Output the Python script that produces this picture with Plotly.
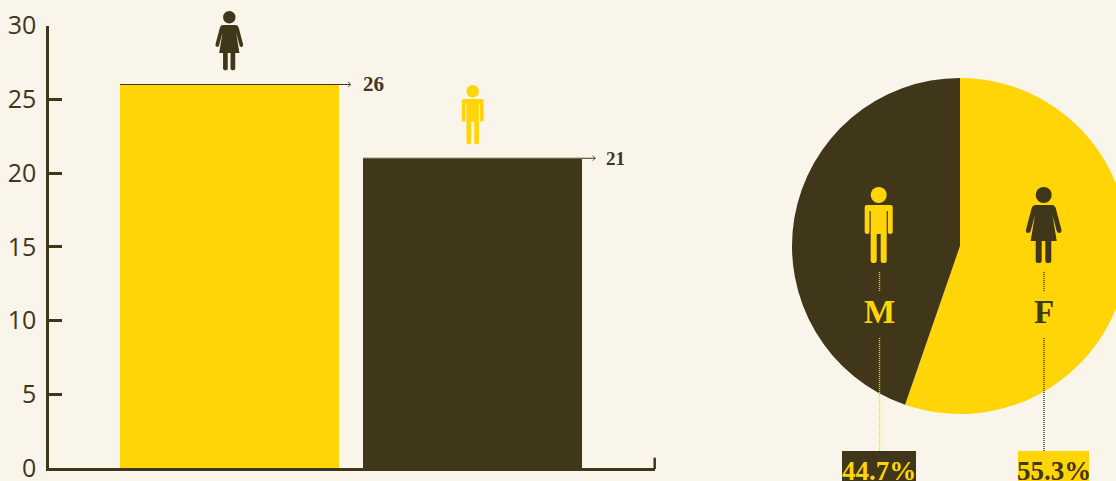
import plotly.graph_objects as go

# ---- data ----
categories = ["F", "M"]
counts = [26, 21]
count_labels = ["26", "21"]
share_values = [55.3, 44.7]
share_labels = ["55.3%", "44.7%"]
y_ticks = [0, 5, 10, 15, 20, 25, 30]

YELLOW = "#FFD508"
DARK = "#40361A"
BG = "#F9F5EA"

W, H = 1140, 481


def px(x):
    return x / W


def py(y):
    return (H - y) / H


def P(x, y):
    return f"{px(x):.5f},{py(y):.5f}"


def rounded_bar(x0, x1, y0, y1, r):
    """vertical limb, flat at the top and rounded at the bottom"""
    return (f"M{P(x0,y0)} L{P(x0,y1-r)} Q{P(x0,y1)} {P(x0+r,y1)} L{P(x1-r,y1)} "
            f"Q{P(x1,y1)} {P(x1,y1-r)} L{P(x1,y0)} Z")


def man(cx, top, s, color):
    X = lambda d: cx + d * s
    Y = lambda d: top + d * s
    r = 2.2 * s
    body = (f"M{P(X(-14),Y(20))} Q{P(X(-14),Y(18))} {P(X(-12),Y(18))} L{P(X(12),Y(18))} "
            f"Q{P(X(14),Y(18))} {P(X(14),Y(20))} L{P(X(14),Y(45))} Q{P(X(14),Y(47))} {P(X(11.5),Y(47))} "
            f"Q{P(X(9.2),Y(47))} {P(X(9.2),Y(45))} L{P(X(9.2),Y(24))} L{P(X(8),Y(24))} L{P(X(8),Y(47))} "
            f"L{P(X(-8),Y(47))} L{P(X(-8),Y(24))} L{P(X(-9.2),Y(24))} L{P(X(-9.2),Y(45))} "
            f"Q{P(X(-9.2),Y(47))} {P(X(-11.5),Y(47))} Q{P(X(-14),Y(47))} {P(X(-14),Y(45))} Z")
    out = [dict(type="circle", xref="paper", yref="paper", x0=px(X(-8)), x1=px(X(8)),
                y0=py(Y(16)), y1=py(Y(0)), fillcolor=color, line_width=0),
           dict(type="path", xref="paper", yref="paper", path=body, fillcolor=color, line_width=0)]
    for a, b in [(-8, -2), (2, 8)]:
        out.append(dict(type="path", xref="paper", yref="paper",
                        path=rounded_bar(X(a), X(b), Y(46), Y(76), r), fillcolor=color, line_width=0))
    return out


def woman(cx, top, s, color):
    X = lambda d: cx + d * s
    Y = lambda d: top + d * s
    r = 2.2 * s
    body = (f"M{P(X(-8),Y(18))} L{P(X(8),Y(18))} Q{P(X(11),Y(18))} {P(X(12),Y(21))} "
            f"L{P(X(17.8),Y(43))} Q{P(X(18),Y(46))} {P(X(15.5),Y(46))} Q{P(X(13.5),Y(46))} {P(X(13),Y(44))} "
            f"L{P(X(8.8),Y(28))} L{P(X(13),Y(54))} L{P(X(-13),Y(54))} L{P(X(-8.8),Y(28))} "
            f"L{P(X(-13),Y(44))} Q{P(X(-13.5),Y(46))} {P(X(-15.5),Y(46))} Q{P(X(-18),Y(46))} {P(X(-17.8),Y(43))} "
            f"L{P(X(-12),Y(21))} Q{P(X(-11),Y(18))} {P(X(-8),Y(18))} Z")
    out = [dict(type="circle", xref="paper", yref="paper", x0=px(X(-8)), x1=px(X(8)),
                y0=py(Y(16)), y1=py(Y(0)), fillcolor=color, line_width=0),
           dict(type="path", xref="paper", yref="paper", path=body, fillcolor=color, line_width=0)]
    for a, b in [(-8, -2), (1.6, 7.6)]:
        out.append(dict(type="path", xref="paper", yref="paper",
                        path=rounded_bar(X(a), X(b), Y(53), Y(76), r), fillcolor=color, line_width=0))
    return out


def value_line(x0, x1, val):
    return [
        dict(type="line", xref="paper", yref="y", x0=px(x0), x1=px(x1), y0=val, y1=val,
             line=dict(color=DARK, width=1)),
    ]


def chevron(x, y):
    return dict(type="path", xref="paper", yref="paper",
                path=f"M{P(x-3,y-2.5)} L{P(x,y)} L{P(x-3,y+2.5)}",
                line=dict(color=DARK, width=0.8))


def vline(x, y0, y1, color):
    return dict(type="line", xref="paper", yref="paper", x0=px(x), x1=px(x), y0=py(y0), y1=py(y1),
                line=dict(color=color, width=1.4, dash="1px,1px"))


def rect(x0, x1, y0, y1, color):
    return dict(type="rect", xref="paper", yref="paper", x0=px(x0), x1=px(x1), y0=py(y0), y1=py(y1),
                fillcolor=color, line_width=0)


fig = go.Figure()
fig.add_trace(go.Bar(x=categories, y=counts, width=0.901, marker=dict(color=[YELLOW, DARK], line_width=0),
                     showlegend=False, hoverinfo="skip"))
fig.add_trace(go.Pie(labels=categories, values=share_values, sort=False, direction="clockwise", rotation=0,
                     marker=dict(colors=[YELLOW, DARK], line_width=0), textinfo="none", showlegend=False,
                     hoverinfo="skip",
                     domain=dict(x=[px(792), px(1128)], y=[py(414), py(78)])))

shapes = []
shapes += woman(229.3, 11, 0.78, DARK)
shapes += man(472.7, 85, 0.78, YELLOW)
shapes += woman(1043.7, 187, 1, DARK)
shapes += man(878.7, 187, 1, YELLOW)
shapes += value_line(120, 350, counts[0])
shapes += value_line(363, 595, counts[1])
shapes += [chevron(351, 84.5), chevron(595.5, 158.2)]
shapes += [vline(879.5, 272, 292, YELLOW), vline(879.5, 338, 451, YELLOW),
           vline(1044, 272, 292, DARK), vline(1044, 338, 451, DARK)]
shapes += [rect(842, 916, 451, 490, DARK), rect(1018, 1089, 451, 490, YELLOW)]
shapes.append(dict(type="line", xref="paper", yref="paper", x0=px(654.7), x1=px(654.7), y0=py(457.7), y1=py(469),
                   line=dict(color=DARK, width=2.5)))


def label(x, y, text, color, size):
    return dict(xref="paper", yref="paper", x=px(x), y=py(y), text=text, showarrow=False, xanchor="center",
                yanchor="middle", font=dict(family="Liberation Serif", size=size, color=color, weight="bold"))


annotations = [
    label(373, 83.5, count_labels[0], DARK, 21),
    label(615, 158, count_labels[1], DARK, 19),
    label(879, 311.5, categories[1], YELLOW, 33),
    label(1044, 311.5, categories[0], DARK, 33),
    label(878.5, 471, share_labels[1], YELLOW, 27),
    label(1053.5, 471, share_labels[0], DARK, 27),
]

fig.update_layout(
    width=W, height=H, autosize=False,
    margin=dict(l=0, r=0, t=0, b=0, pad=0, autoexpand=False),
    paper_bgcolor=BG, plot_bgcolor=BG,
    shapes=shapes, annotations=annotations, bargap=0,
    xaxis=dict(domain=[px(49), px(655)], type="category", range=[-0.743, 1.751], showgrid=False,
               showticklabels=False, ticks="", zeroline=False, showline=True, linecolor=DARK, linewidth=2.5),
    yaxis=dict(domain=[py(468), py(25.5)], range=[0, 30], tickvals=y_ticks, ticks="inside", ticklen=13,
               tickwidth=2.5, tickcolor=DARK, showgrid=False, zeroline=False, showline=True, linecolor=DARK,
               linewidth=2.5, ticklabelstandoff=5, ticklabeloverflow="allow",
               tickfont=dict(family="Open Sans", size=25, color=DARK)),
)

fig.write_html("out.html", config=dict(displayModeBar=False, responsive=False),
               post_script="document.body.style.margin='0';document.documentElement.style.overflow='hidden';document.body.style.overflow='hidden';")
